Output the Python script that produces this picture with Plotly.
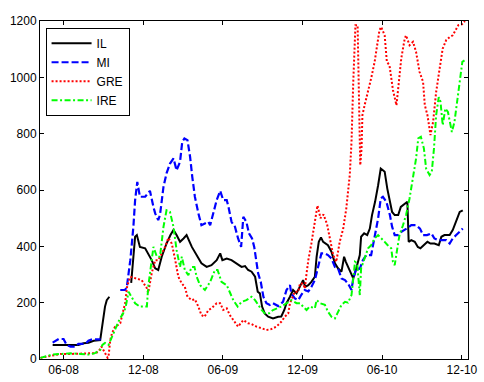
import pandas as pd
import plotly.graph_objects as go

base = pd.Timestamp("2008-06-01")

# Days since 2008-06-01 and values (None = missing data)
il_days = [-25, -7, 16, 34, 46, 57, 69, 84, 87, 95, 99, 105, 130,
           155, 160, 164, 168, 172, 175, 187, 194, 202, 210, 217, 225, 236, 245, 252, 259, 267, 275, 282,
           294, 305, 316, 328, 339, 351, 359, 364, 374, 385, 397, 408, 416, 423, 431, 439, 445, 450, 455,
           461, 469, 480, 492, 499, 506, 511, 519, 526, 534, 542, 549, 554, 561, 568, 576, 580, 585, 590,
           595, 606, 614, 622, 629, 637, 643, 647, 656, 664, 671, 679, 682, 689, 696, 702, 707, 714, 721,
           727, 732, 736, 742, 748, 753, 759, 767, 773, 782, 788, 791, 797, 805, 812, 818, 826, 834, 841,
           850, 860, 866, 873, 885, 892, 900, 908, 915]
il_vals = [50, 50, 52, 50, 56, 58, 65, 67, 100, 186, 209, 221, None,
           270, 380, 434, 440, 410, 398, 393, 375, 351, 322, 316, 363, 410, 440, 458, 440, 416, 428, 440,
           398, 369, 340, 327, 333, 351, 375, 351, 357, 351, 340, 327, 330, 316, 310, 292, 239, 233, 186,
           162, 150, 144, 150, 151, 174, 198, 221, 245, 233, 256, 280, 256, 262, 274, 292, 363, 416, 432,
           416, 404, 381, 340, 322, 310, 363, 345, 310, 286, 322, 369, 434, 446, 440, 463, 511, 558, 617,
           676, 670, 665, 605, 558, 522, 511, 511, 540, 552, 558, 416, 422, 416, 398, 393, 404, 416, 410,
           410, 404, 434, 440, 440, 458, 487, 522, 528]

mi_days = [-25, -11, 0, 7, 16, 27, 34, 50, 57, 66, 85, 110,
           130, 141, 145, 153, 160, 164, 169, 175, 187, 198, 206, 210, 217, 221, 229, 236, 244, 252, 259,
           267, 272, 277, 284, 290, 295, 301, 309, 316, 324, 332, 336, 343, 351, 359, 366, 374, 378, 385,
           393, 400, 407, 412, 419, 425, 432, 437, 442, 446, 452, 458, 465, 473, 480, 492, 503, 511, 519,
           522, 530, 538, 545, 553, 561, 568, 576, 583, 591, 599, 606, 614, 622, 629, 637, 645, 652, 660,
           664, 671, 679, 686, 694, 705, 713, 721, 727, 732, 740, 748, 753, 759, 767, 775, 786, 797, 808,
           817, 824, 833, 843, 850, 858, 870, 877, 885, 892, 900, 908, 915]
mi_vals = [58, 71, 71, 50, 44, 44, 54, 54, 65, 70, 70, None,
           245, 245, 256, 351, 469, 564, 629, 576, 576, 597, 540, 517, 493, 511, 611, 659, 694, 712, 670,
           700, 771, 783, 777, 718, 647, 576, 517, 475, 481, 487, 475, 517, 564, 597, 564, 564, 540, 487,
           469, 428, 398, 505, 487, 446, 428, 398, 351, 304, 274, 221, 198, 192, 198, 188, 203, 245, 262,
           233, 215, 209, 228, 245, 240, 256, 280, 330, 375, 375, 369, 357, 327, 322, 286, 280, 268, 245,
           286, 322, 320, 351, 369, 369, 440, 499, 570, 576, 558, 511, 470, 440, 440, 452, 463, 475, 475,
           463, 440, 440, 446, 428, 422, 422, 422, 410, 428, 440, 452, 463]

gre_days = [-53, -41, -25, -7, 16, 39, 57, 73, 80, 87, 92, 95, 101, 103, 107, 111, 118, 124, 130,
            141, 146, 153, 164, 179, 191, 194, 202, 210, 217, 225, 233, 240, 248, 256, 263, 271, 278,
            284, 294, 301, 309, 316, 323, 332, 339, 351, 359, 366, 374, 381, 389, 400, 412, 423, 431,
            442, 454, 465, 476, 488, 499, 507, 515, 519, 522, 530, 538, 542, 549, 553, 557, 561, 568,
            576, 582, 589, 596, 604, 612, 618, 625, 633, 641, 648, 656, 660, 664, 666, 669, 674, 677,
            679, 680, 683, 685, 690, 698, 705, 713, 719, 724, 728, 736, 741, 747, 755, 763, 767, 774,
            782, 785, 793, 801, 808, 816, 824, 828, 834, 839, 841, 847, 854, 862, 869, 877, 885, 892,
            900, 905, 913, 920]
gre_vals = [4, 8, 14, 18, 18, 18, 20, 21, 26, 44, 30, 20, 4, 8, 67, 91, 115, 120, 127,
            198, 260, 292, 286, 280, 251, 235, 304, 351, 351, 375, 398, 430, 410, 351, 292, 268, 256,
            221, 209, 212, 186, 156, 150, 174, 180, 198, 198, 174, 180, 156, 138, 115, 138, 127, 124,
            115, 109, 103, 106, 115, 132, 150, 162, 198, 209, 239, 239, 268, 268, 250, 304, 351, 410,
            493, 545, 500, 513, 478, 407, 369, 345, 416, 463, 534, 653, 771, 984, 1102, 1185, 1185, 984,
            747, 688, 747, 866, 901, 948, 996, 1055, 1114, 1167, 1179, 1149, 1055, 1043, 955, 901, 960, 1067,
            1138, 1149, 1114, 1126, 1090, 1019, 984, 901, 866, 812, 795, 842, 948, 1031, 1102, 1132, 1143, 1149,
            1173, 1185, 1188, 1200]

ire_days = [-53, -41, -25, -7, 16, 39, 57, 71, 78, 84, 89, 95, 103, 110, 118, 128, 137, 142, 149,
            156, 164, 175, 191, 194, 201, 206, 214, 221, 229, 236, 244, 252, 259, 267, 271, 278, 286,
            294, 300, 305, 313, 324, 336, 347, 353, 362, 374, 381, 389, 399, 408, 419, 431, 439, 446,
            454, 461, 471, 480, 492, 499, 511, 522, 534, 542, 549, 557, 564, 576, 580, 588, 599, 606,
            614, 622, 627, 637, 645, 652, 660, 664, 668, 673, 679, 682, 690, 698, 705, 713, 721, 728,
            736, 743, 751, 755, 759, 765, 770, 778, 785, 793, 801, 808, 813, 819, 826, 831, 839, 844,
            849, 854, 860, 864, 869, 875, 881, 885, 890, 896, 902, 908, 914, 919]
ire_vals = [4, 10, 16, 18, 20, 18, 16, 20, 26, 32, 50, 57, 50, 75, 103, 140, 163, 182, 239,
            221, 198, 186, 186, 256, 340, 398, 363, 363, 469, 528, 522, 469, 387, 327, 363, 316, 298,
            327, 327, 292, 262, 245, 274, 316, 316, 274, 262, 239, 209, 186, 203, 209, 221, 209, 192,
            174, 162, 162, 174, 180, 186, 198, 209, 198, 198, 186, 174, 186, 180, 209, 198, 192, 168,
            150, 144, 160, 192, 203, 200, 227, 298, 345, 340, 227, 322, 357, 393, 404, 428, 440, 430,
            416, 404, 393, 345, 333, 393, 440, 475, 511, 570, 641, 712, 783, 789, 747, 676, 653, 665,
            747, 866, 930, 913, 830, 889, 877, 842, 806, 842, 913, 984, 1055, 1060]

tick_dates = ["2008-06-01", "2008-12-01", "2009-06-01", "2009-12-01", "2010-06-01", "2010-12-01"]
tick_text = ["06-08", "12-08", "06-09", "12-09", "06-10", "12-10"]
y_ticks = [0, 200, 400, 600, 800, 1000, 1200]


def to_dates(days):
    return [base + pd.Timedelta(days=d) for d in days]


fig = go.Figure()
fig.add_trace(go.Scatter(x=to_dates(il_days), y=il_vals, name="IL", mode="lines",
                         line=dict(color="#000000", width=2), connectgaps=False))
fig.add_trace(go.Scatter(x=to_dates(mi_days), y=mi_vals, name="MI", mode="lines",
                         line=dict(color="#0000FF", width=2.2, dash="7px,3px"), connectgaps=False))
fig.add_trace(go.Scatter(x=to_dates(gre_days), y=gre_vals, name="GRE", mode="lines",
                         line=dict(color="#FF0000", width=2, dash="2px,2px")))
fig.add_trace(go.Scatter(x=to_dates(ire_days), y=ire_vals, name="IRE", mode="lines",
                         line=dict(color="#00FF00", width=2, dash="6px,2.5px,2px,2.5px")))

axis_common = dict(showline=True, linecolor="black", linewidth=1, mirror="ticks",
                   ticks="inside", ticklen=4, tickcolor="black", showgrid=False, zeroline=False,
                   automargin=False,
                   tickfont=dict(family="Liberation Sans, Arial, sans-serif", size=12, color="black"))

fig.update_xaxes(range=[base + pd.Timedelta(days=-54), base + pd.Timedelta(days=927)],
                 tickmode="array", tickvals=tick_dates, ticktext=tick_text, **axis_common)
fig.update_yaxes(range=[0, 1200], tickmode="array", tickvals=y_ticks, **axis_common)

fig.update_layout(
    width=484, height=382,
    margin=dict(l=40, r=16, t=21, b=23, autoexpand=False),
    paper_bgcolor="white", plot_bgcolor="white",
    font=dict(family="Liberation Sans, Arial, sans-serif", size=12, color="black"),
    legend=dict(x=0.013, y=0.98, xanchor="left", yanchor="top",
                bgcolor="white", bordercolor="black", borderwidth=1,
                itemwidth=40, tracegroupgap=0,
                font=dict(family="Liberation Sans, Arial, sans-serif", size=12, color="black")),
    showlegend=True,
)

# remove the browser's default 8px body margin so the figure sits at the window origin
fig.write_html("out.html", config={"displayModeBar": False},
               post_script="document.body.style.margin='0';document.body.style.overflow='hidden';")
